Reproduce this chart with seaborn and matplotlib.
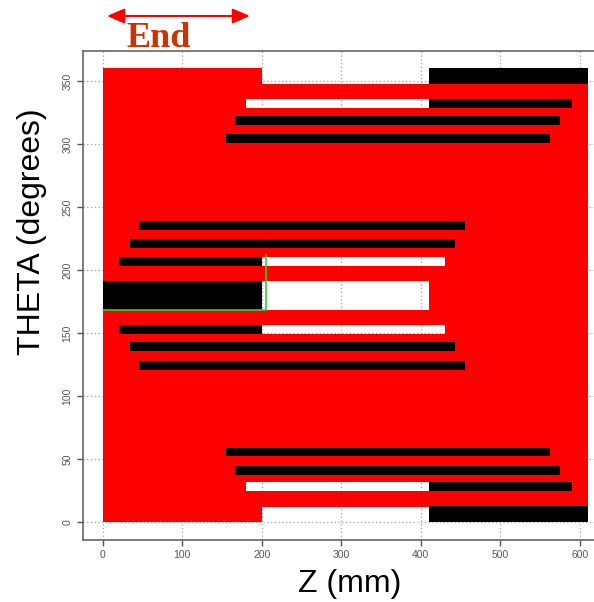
import matplotlib
matplotlib.use('Agg')
import matplotlib.pyplot as plt
from matplotlib.path import Path
from matplotlib.patches import PathPatch
import seaborn as sns

# detector outline (red area) in Z / THETA
red_z = [0, 610]
red_theta = [0, 360]

# black strips: theta centre, thickness, z start, z end
black_theta = [354, 332, 318.5, 304.5, 235, 221, 207, 179.5, 153, 139.5, 124.5, 55.5, 41, 28, 6.5]
black_height = [12, 7, 7, 7, 7, 7, 7, 23, 7, 7, 7, 7, 7, 7, 13]
black_start = [410, 410, 166, 155, 45, 34, 20, 0, 20, 34, 45, 155, 166, 410, 410]
black_end = [610, 590, 575, 562, 455, 443, 200, 200, 200, 443, 455, 562, 575, 590, 610]

# empty (white) gaps cut out of the red area
gap_theta = [354, 332, 207, 179.5, 153, 28, 6]
gap_height = [12, 7, 7, 23, 7, 7, 12]
gap_start = [200, 180, 200, 200, 200, 180, 200]
gap_end = [410, 410, 430, 410, 430, 410, 410]

# green marker line
green_z = [0, 205, 205]
green_theta = [168, 168, 212]

xticks = [0, 100, 200, 300, 400, 500, 600]
yticks = [0, 50, 100, 150, 200, 250, 300, 350]

sns.set_style('ticks')
plt.rcParams['font.family'] = ['Liberation Sans', 'DejaVu Sans']

fig = plt.figure(figsize=(5.94, 6.02), dpi=100)
# axes run past the right edge of the picture, as in the original
ax = fig.add_axes([83 / 594, 62 / 602, 0.795 * 725 / 594, 489 / 602])
ax.patch.set_visible(False)


def rect(x0, x1, y0, y1, hole=False):
    v = [(x0, y0), (x1, y0), (x1, y1), (x0, y1), (x0, y0)]
    if hole:
        v = v[::-1]
    return v, [Path.MOVETO, Path.LINETO, Path.LINETO, Path.LINETO, Path.CLOSEPOLY]


verts, codes = rect(red_z[0], red_z[1], red_theta[0], red_theta[1])
for t, h, a, b in zip(gap_theta, gap_height, gap_start, gap_end):
    v, c = rect(a, b, t - h / 2, t + h / 2, hole=True)
    verts += v
    codes += c
ax.add_patch(PathPatch(Path(verts, codes), facecolor='#ff0000', edgecolor='none', zorder=1))

ax.barh(black_theta, [e - s for s, e in zip(black_start, black_end)], left=black_start,
        height=black_height, color='black', linewidth=0, zorder=2)

sns.lineplot(x=green_z, y=green_theta, sort=False, estimator=None, color='#33cc33',
             lw=1.2, ax=ax, zorder=3)

ax.set_xlim(-25, 700)
ax.set_ylim(-14.3, 373.8)
ax.set_xticks(xticks)
ax.set_yticks(yticks)
ax.set_axisbelow(True)
ax.grid(True, linestyle=(0, (1, 2)), color='#a0a0a0', lw=0.9)
ax.tick_params(direction='out', length=4, width=1, colors='#555555', labelsize=7.5)
plt.setp(ax.get_yticklabels(), rotation=90, va='center')
for s in ['left', 'bottom', 'top']:
    ax.spines[s].set_color('#666666')
    ax.spines[s].set_linewidth(1.2)
ax.spines['right'].set_visible(False)

ax.set_xlabel('Z (mm)', fontsize=23, color='black')
ax.set_ylabel('THETA (degrees)', fontsize=23, color='black')
ax.xaxis.set_label_coords(267 / (0.795 * 725), -0.06)
ax.yaxis.set_label_coords(-36 / (0.795 * 725), 0.63)

ax.annotate('', xy=(107 / 594, 1 - 16 / 602), xytext=(250 / 594, 1 - 16 / 602),
            xycoords='figure fraction', textcoords='figure fraction', annotation_clip=False,
            arrowprops=dict(arrowstyle='<|-|>,head_length=0.7,head_width=0.3', color='red',
                            lw=1.5, mutation_scale=15, shrinkA=0, shrinkB=0))
fig.text(159 / 594, 1 - 47 / 602, 'End', ha='center', va='baseline', fontsize=26,
         fontweight='bold', family='Liberation Serif', color='#cc3300')

fig.savefig('out.png', dpi=100)
